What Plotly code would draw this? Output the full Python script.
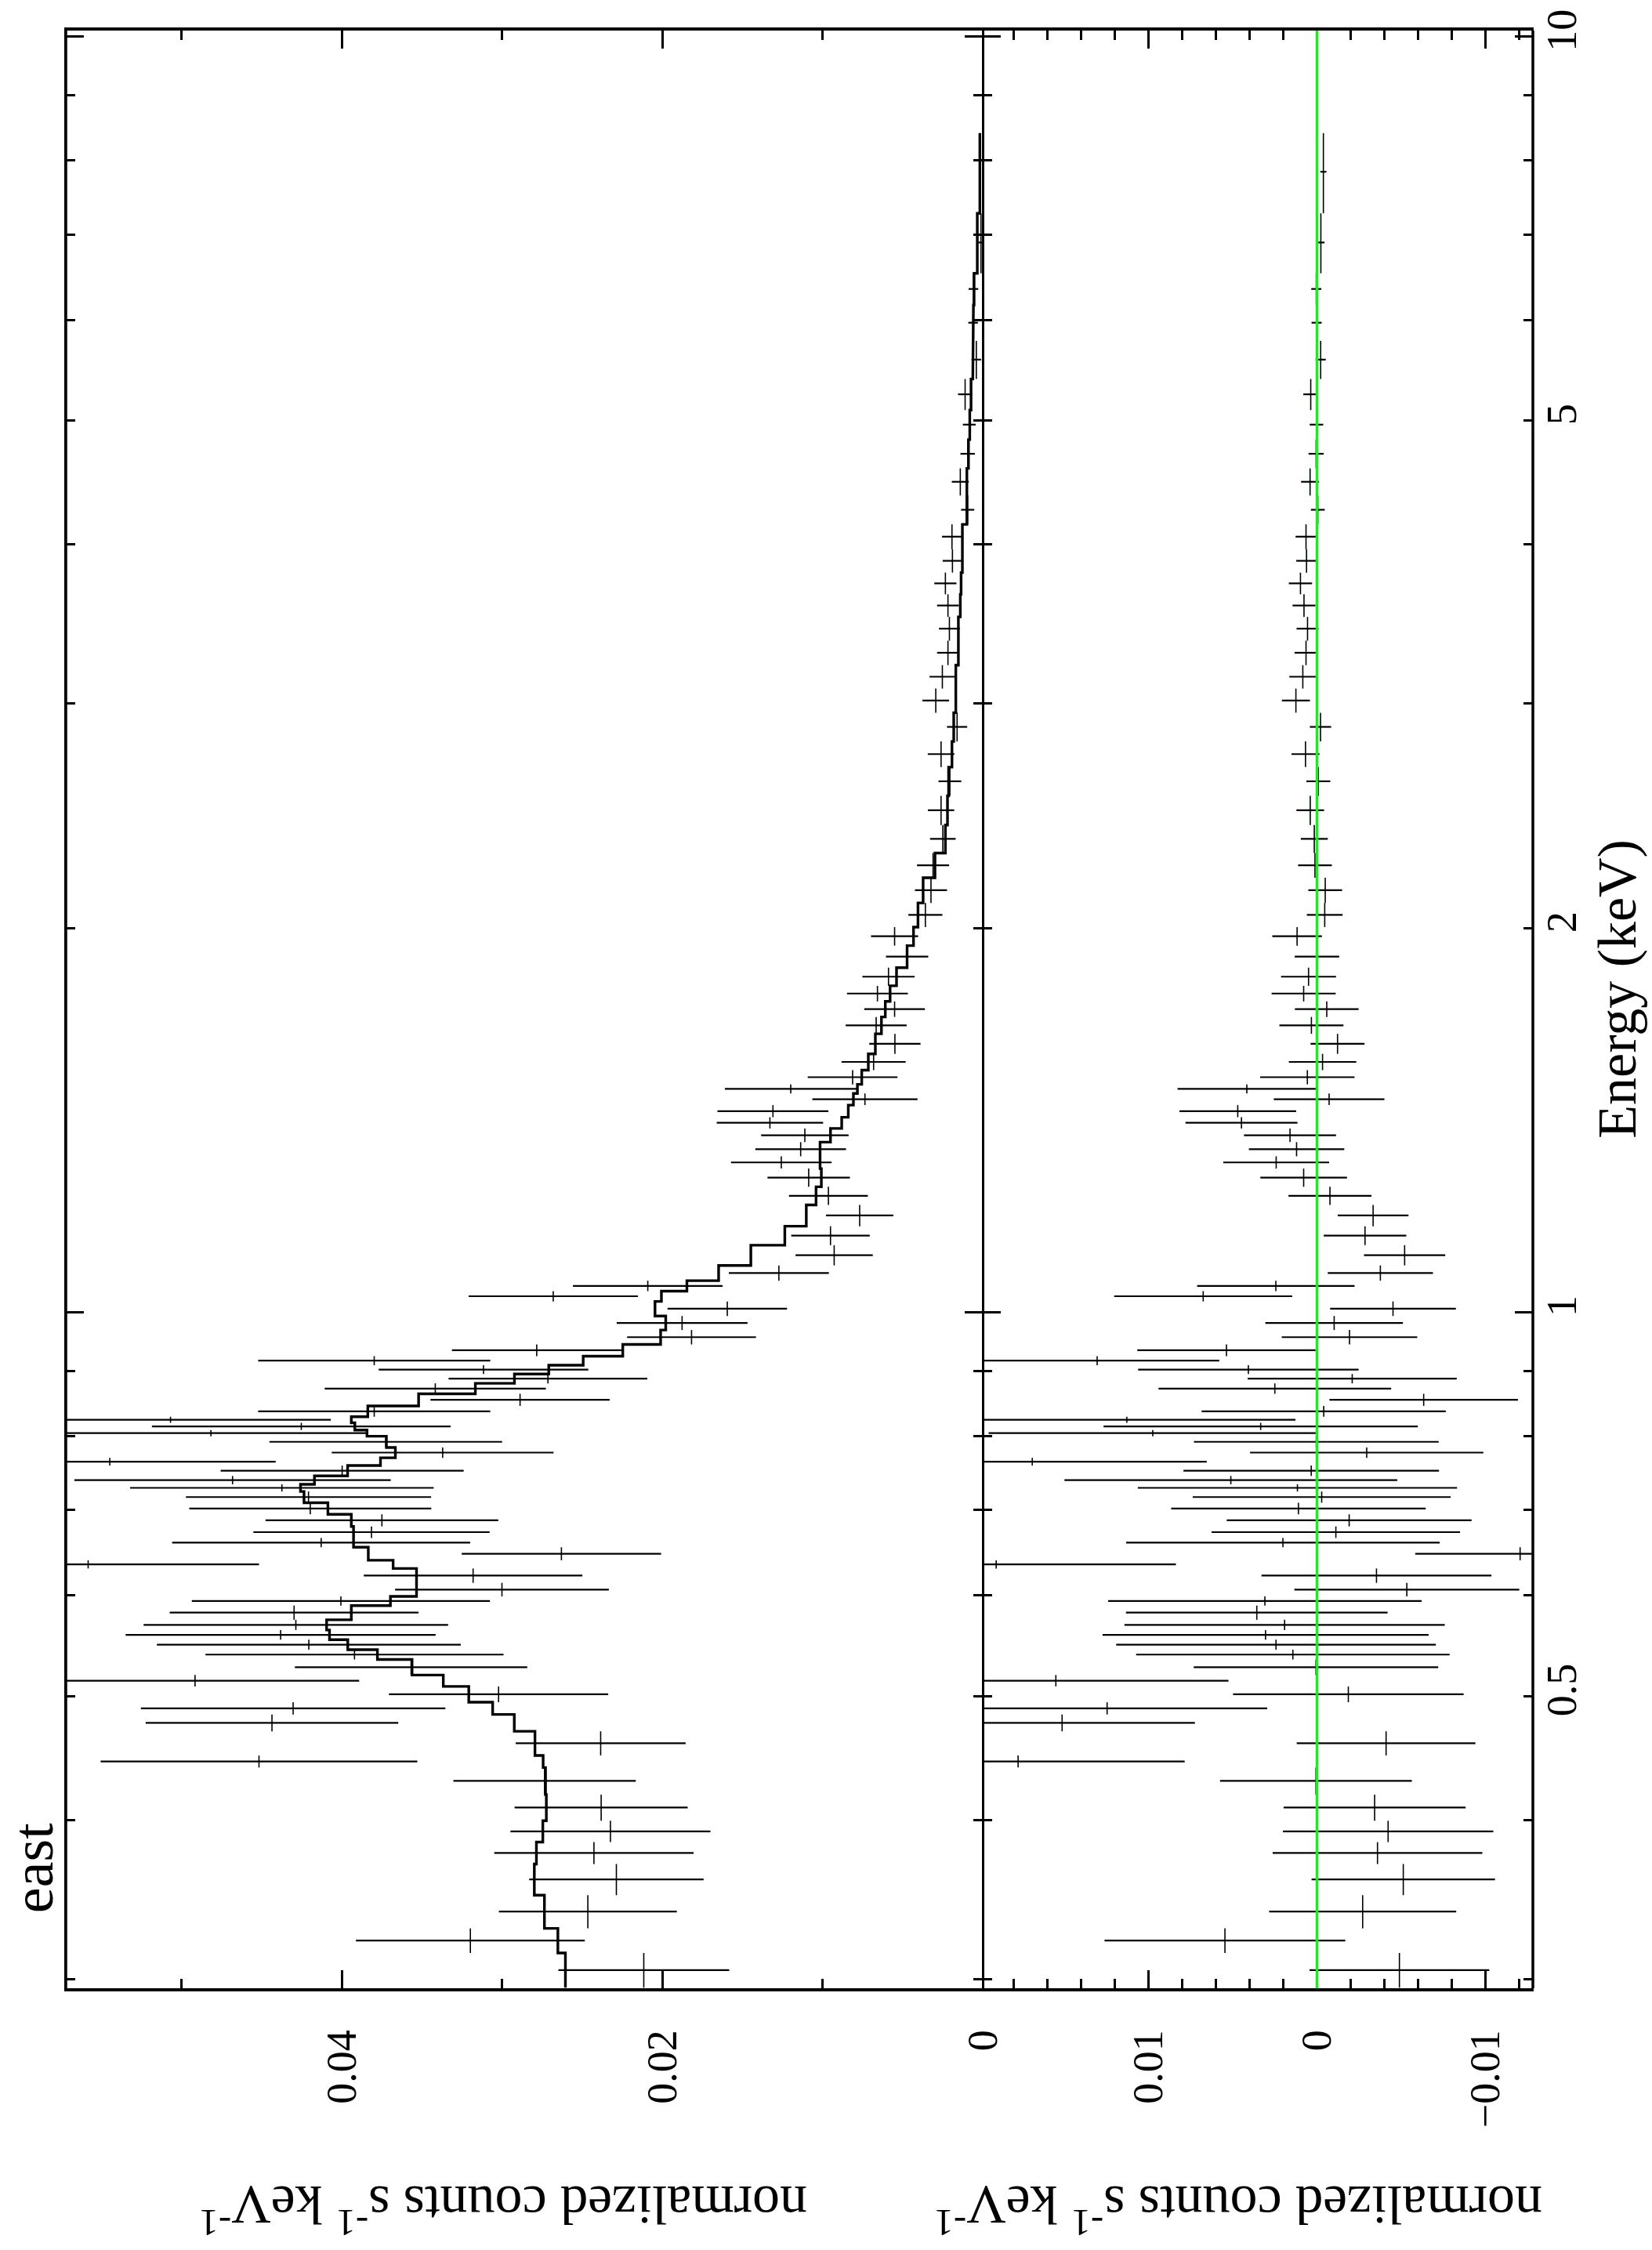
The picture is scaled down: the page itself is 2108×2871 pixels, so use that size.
import numpy as np
import plotly.graph_objects as go

# ---------------- data ----------------
# energy bin edges (keV), ascending
energy_edges = [0.2955, 0.3146, 0.3289, 0.3492, 0.3694, 0.3843, 0.3994, 0.4187, 0.4397, 0.4494,
                0.4694, 0.4839, 0.4947, 0.5090, 0.5196, 0.5344, 0.5439, 0.5538, 0.5636, 0.5741,
                0.5890, 0.5988, 0.6137, 0.6298, 0.6392, 0.6544, 0.6655, 0.6795, 0.6945, 0.7092,
                0.7237, 0.7332, 0.7443, 0.7584, 0.7691, 0.7836, 0.7996, 0.8086, 0.8192, 0.8283,
                0.8446, 0.8633, 0.8797, 0.8946, 0.9090, 0.9240, 0.9437, 0.9686, 0.9934, 1.0199,
                1.0391, 1.0588, 1.0884, 1.1289, 1.1682, 1.2139, 1.2544, 1.2963, 1.3253, 1.3597,
                1.3937, 1.4222, 1.4537, 1.4846, 1.5092, 1.5484, 1.5947, 1.6533, 1.7044, 1.7530,
                1.8030, 1.8630, 1.9385, 2.0046, 2.0939, 2.1914, 2.2914, 2.4102, 2.5405, 2.6758,
                2.8026, 2.9520, 3.0834, 3.2166, 3.3618, 3.5092, 3.6552, 3.8012, 3.9650, 4.1472,
                4.3686, 4.5885, 4.8330, 5.0976, 5.3916, 5.7758, 6.1609, 6.5254, 7.2711, 8.4038]

# normalized counts s^-1 keV^-1 per bin
counts = [0.02115, 0.03197, 0.02464, 0.02286, 0.02426, 0.02323, 0.02381, 0.02734, 0.04516, 0.02384,
          0.04435, 0.04303, 0.03021, 0.04915, 0.03567, 0.03920, 0.04205, 0.04381, 0.04286, 0.04297,
          0.04005, 0.03000, 0.03180, 0.05582, 0.02629, 0.04128, 0.03814, 0.03749, 0.04196, 0.04207,
          0.04373, 0.04681, 0.03997, 0.05447, 0.03370, 0.03725, 0.04816, 0.04252, 0.05068, 0.03797,
          0.02887, 0.03416, 0.02713, 0.03115, 0.03797, 0.02783, 0.01817, 0.01876, 0.01594, 0.02680,
          0.02090, 0.01272, 0.00927, 0.00950, 0.00768, 0.00963, 0.01086, 0.01257, 0.01136, 0.01110,
          0.01328, 0.01309, 0.00735, 0.01198, 0.00812, 0.00681, 0.00548, 0.00665, 0.00550, 0.00657,
          0.00588, 0.00472, 0.00550, 0.00358, 0.00323, 0.00310, 0.00249, 0.00260, 0.00205, 0.00260,
          0.00160, 0.00293, 0.00252, 0.00217, 0.00208, 0.00217, 0.00233, 0.00189, 0.00192, 0.00094,
          0.00140, 0.00094, 0.00084, 0.00110, 0.00040, 0.00060, 0.00058, 0.00011, -0.00020]

counts_err = [0.00533, 0.00714, 0.00555, 0.00544, 0.00622, 0.00624, 0.00540, 0.00569, 0.00988, 0.00530,
              0.00788, 0.00950, 0.00684, 0.01024, 0.00725, 0.00930, 0.00948, 0.00967, 0.00950, 0.00776,
              0.00930, 0.00667, 0.00682, 0.01066, 0.00622, 0.00930, 0.00737, 0.00726, 0.00755, 0.00765,
              0.00947, 0.00987, 0.00758, 0.01035, 0.00692, 0.00726, 0.00974, 0.00932, 0.01000, 0.00724,
              0.00559, 0.00690, 0.00620, 0.00654, 0.00724, 0.00529, 0.00402, 0.00408, 0.00373, 0.00528,
              0.00467, 0.00312, 0.00241, 0.00245, 0.00210, 0.00246, 0.00257, 0.00314, 0.00283, 0.00273,
              0.00332, 0.00346, 0.00328, 0.00411, 0.00280, 0.00200, 0.00160, 0.00190, 0.00189, 0.00190,
              0.00163, 0.00132, 0.00147, 0.00106, 0.00100, 0.00100, 0.00080, 0.00082, 0.00071, 0.00083,
              0.00063, 0.00083, 0.00080, 0.00068, 0.00065, 0.00068, 0.00069, 0.00061, 0.00062, 0.00041,
              0.00053, 0.00045, 0.00040, 0.00044, 0.00030, 0.00030, 0.00030, 0.00022, 0.00018]

model = [0.02604, 0.02651, 0.02735, 0.02798, 0.02785, 0.02745, 0.02723, 0.02728, 0.02743, 0.02794,
         0.02923, 0.03058, 0.03207, 0.03366, 0.03561, 0.03777, 0.03962, 0.04076, 0.04094, 0.03940,
         0.03696, 0.03533, 0.03533, 0.03679, 0.03834, 0.03926, 0.03926, 0.03940, 0.04086, 0.04235,
         0.04257, 0.04170, 0.03963, 0.03758, 0.03665, 0.03721, 0.03842, 0.03918, 0.03940, 0.03837,
         0.03520, 0.03166, 0.02922, 0.02708, 0.02493, 0.02246, 0.02010, 0.01978, 0.02045, 0.02005,
         0.01846, 0.01648, 0.01447, 0.01235, 0.01101, 0.01040, 0.01007, 0.01015, 0.01015, 0.00950,
         0.00880, 0.00839, 0.00807, 0.00782, 0.00755, 0.00714, 0.00670, 0.00632, 0.00608, 0.00578,
         0.00538, 0.00472, 0.00432, 0.00404, 0.00372, 0.00298, 0.00233, 0.00220, 0.00213, 0.00192,
         0.00181, 0.00168, 0.00168, 0.00152, 0.00152, 0.00140, 0.00135, 0.00127, 0.00127, 0.00099,
         0.00099, 0.00089, 0.00081, 0.00073, 0.00062, 0.00058, 0.00054, 0.00034, 0.00018]

energy_tickvals = [0.5, 1, 2, 5, 10]
energy_ticktext = ["0.5", "1", "2", "5", "10"]
energy_major = [1, 10]
energy_minor = [0.3, 0.4, 0.5, 0.6, 0.7, 0.8, 0.9, 2, 3, 4, 5, 6, 7, 8, 9]
counts_tickvals = [0, 0.02, 0.04]
counts_ticktext = ["0", "0.02", "0.04"]
counts_minor = [0.01, 0.03, 0.05]
resid_tickvals = [-0.01, 0, 0.01]
resid_ticktext = ["\u22120.01", "0", "0.01"]
resid_minor = [-0.012, -0.008, -0.006, -0.004, -0.002, 0.002, 0.004, 0.006, 0.008,
               0.012, 0.014, 0.016, 0.018]

# ---------------- derived ----------------
edges = np.array(energy_edges)
lo, hi = edges[:-1], edges[1:]
ec = 0.5 * (lo + hi)
c = np.array(counts)
ce = np.array(counts_err)
m = np.array(model)
resid = c - m

# ---------------- layout geometry (pixels) ----------------
W, H = 2108, 2871
L, R, T, B = 84, 1956, 20, 2537   # plot frame
SPLIT = 1254
PW, PH = R - L, B - T


def px(xp):
    return (xp - L) / PW


def py(yp):
    return (B - yp) / PH


FONT = "Liberation Serif, Times New Roman, serif"
LW = 3.5

fig = go.Figure()

err_x = dict(type="data", array=ce, symmetric=True, color="black", thickness=2.2, width=0)
err_y = dict(type="data", array=hi - ec, arrayminus=ec - lo, symmetric=False,
             color="black", thickness=1.6, width=0)

# top (left) panel: data
fig.add_trace(go.Scatter(x=c, y=ec, mode="markers", marker=dict(size=2, color="black"),
                         error_x=err_x, error_y=err_y, xaxis="x", yaxis="y",
                         showlegend=False, hoverinfo="skip"))
# model step line
fig.add_trace(go.Scatter(x=np.repeat(m, 2), y=np.column_stack([lo, hi]).ravel(),
                         mode="lines", line=dict(color="black", width=3.4),
                         xaxis="x", yaxis="y", showlegend=False, hoverinfo="skip"))
# residual panel
fig.add_trace(go.Scatter(x=resid, y=ec, mode="markers", marker=dict(size=2, color="black"),
                         error_x=err_x, error_y=err_y, xaxis="x2", yaxis="y2",
                         showlegend=False, hoverinfo="skip"))
# dummy trace for the label axis
fig.add_trace(go.Scatter(x=[0], y=[1], mode="markers", marker=dict(size=1, opacity=0),
                         xaxis="x2", yaxis="y3", showlegend=False, hoverinfo="skip"))

fig.add_shape(type="line", xref="x2", yref="y2 domain", x0=0, x1=0, y0=0, y1=1,
              line=dict(color="#00ff00", width=3.5), layer="above")
# right frame of the residual panel
fig.add_shape(type="line", xref="x2 domain", yref="y2 domain", x0=1, x1=1, y0=0, y1=1,
              line=dict(color="black", width=LW), layer="above")

yrange = [(1668 - B) / 1640, (1668 - T) / 1640]


def yax(lw):
    return dict(type="log", range=yrange, showgrid=False, zeroline=False,
                showline=True, linecolor="black", linewidth=lw, mirror="ticks",
                ticks="inside", tickmode="array", tickvals=energy_major, ticklen=23,
                tickwidth=3, tickcolor="black", showticklabels=False,
                minor=dict(tickmode="array", tickvals=energy_minor, ticks="inside",
                           ticklen=12, tickwidth=3, tickcolor="black"))


xax_common = dict(showgrid=False, zeroline=False, showline=True, linecolor="black",
                  linewidth=LW, mirror="ticks", ticks="inside", tickmode="array",
                  ticklen=23, tickwidth=3, tickcolor="black", tickangle=-90,
                  tickfont=dict(family=FONT, size=54, color="black"),
                  ticklabelstandoff=28)

split = px(SPLIT)
fig.update_layout(
    width=W, height=H,
    margin=dict(l=L, r=W - R, t=T, b=H - B, pad=0),
    paper_bgcolor="white", plot_bgcolor="white",
    font=dict(family=FONT, color="black"),
    xaxis=dict(domain=[0, split], range=[(SPLIT - L) / 20450, 0.0], anchor="y",
               tickvals=counts_tickvals, ticktext=counts_ticktext,
               minor=dict(tickmode="array", tickvals=counts_minor, ticks="inside",
                          ticklen=12, tickwidth=3, tickcolor="black"),
               **xax_common),
    xaxis2=dict(domain=[split, 1], range=[(1680.5 - SPLIT) / 21510, -(R - 1680.5) / 21510],
                anchor="y2", tickvals=resid_tickvals, ticktext=resid_ticktext,
                minor=dict(tickmode="array", tickvals=resid_minor, ticks="inside",
                           ticklen=12, tickwidth=3, tickcolor="black"),
                **xax_common),
    yaxis=dict(domain=[0, 1], anchor="x", **yax(2.2)),
    yaxis2=dict(domain=[0, 1], anchor="x2", **yax(1.2)),
    yaxis3=dict(type="log", range=yrange, overlaying="y2", anchor="x2", side="right",
                showgrid=False, zeroline=False, showline=False, ticks="",
                tickmode="array", tickvals=energy_tickvals, ticktext=energy_ticktext,
                tickangle=-90, ticklabelstandoff=0, ticklabeloverflow="allow",
                tickfont=dict(family=FONT, size=54, color="black")),
)

# left frame line of the data panel (thicker, like the other frame edges)
fig.add_shape(type="line", xref="x domain", yref="y domain", x0=0, x1=0, y0=0, y1=1,
              line=dict(color="black", width=LW), layer="above")

TITLE = "normalized counts s<sup>-1</sup> keV<sup>-1</sup>"
annots = [
    dict(text="east", x=px(42), y=py(2383), textangle=-90, size=74),
    dict(text="Energy (keV)", x=px(2064), y=py(1252), textangle=-90, size=70),
    dict(text=TITLE, x=px(642), y=py(2822), textangle=180, size=70),
    dict(text=TITLE, x=px(1580), y=py(2822), textangle=180, size=70),
]
for a in annots:
    fig.add_annotation(text=a["text"], x=a["x"], y=a["y"], xref="paper", yref="paper",
                       textangle=a["textangle"], showarrow=False,
                       xanchor="center", yanchor="middle",
                       font=dict(family=FONT, size=a["size"], color="black"))

fig.write_html("out.html")
